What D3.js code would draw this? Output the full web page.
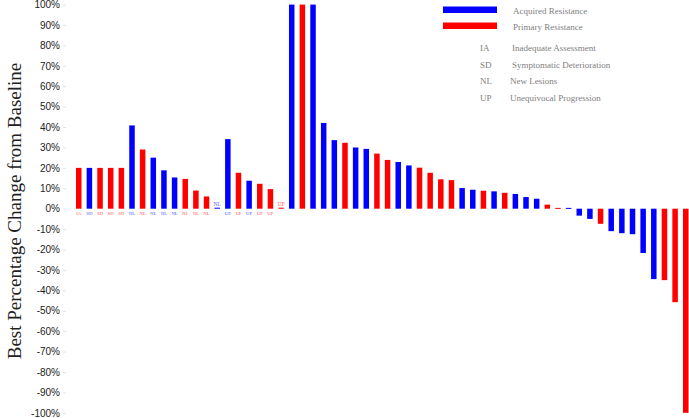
<!DOCTYPE html>
<html>
<head>
<meta charset="utf-8">
<script src="https://cdn.jsdelivr.net/npm/d3@7"></script>
<style>
  body { margin: 0; background: #fff; }
  svg { display: block; }
</style>
</head>
<body>
<div id="chartContainer"></div>
<script>
// one bar per patient, sorted as in the figure
var patients = d3.range(1, 59);
var bestChange = [
    20, 20, 20, 20, 20, 40.8, 29, 25, 18.8, 15.3, 14.6, 8.9, 6, 0.5,
    34.1, 17.6, 13.7, 12.2, 9.6, 0.5,
    100, 100, 100, 42, 33.6, 32.3, 30, 29.3, 27, 23.9, 22.9, 21.2, 20.1, 17.6,
    14.4, 14, 10.1, 9.3, 8.8, 8.5, 7.8, 7.2, 5.7, 4.9, 2, 0.4, 0.4,
    -3.4, -5, -7.4, -11, -12, -12.5, -21.7, -34.5, -35, -45.8, -100
];
// A = acquired resistance, P = primary resistance
var resistance = [
    'P', 'A', 'P', 'P', 'P', 'A', 'P', 'A', 'A', 'A', 'P', 'P', 'P', 'A',
    'A', 'P', 'A', 'P', 'P', 'P',
    'A', 'P', 'A', 'A', 'A', 'P', 'A', 'A', 'P', 'P', 'A', 'A', 'P', 'P',
    'P', 'P', 'A', 'A', 'P', 'A', 'P', 'A', 'A', 'A', 'P', 'P', 'A',
    'A', 'A', 'P', 'A', 'A', 'A', 'A', 'A', 'P', 'P', 'P'
];
// reason for progression, only for the first patients
var reasonCodes = [
    'IA', 'SD', 'SD', 'SD', 'SD', 'NL', 'NL', 'NL', 'NL', 'NL', 'NL', 'NL', 'NL', 'NL',
    'UP', 'UP', 'UP', 'UP', 'UP', 'UP'
];
var yTicks = d3.range(-100, 101, 10);
var legendSeries = ['Acquired Resistance', 'Primary Resistance'];
var legendCodes = ['IA', 'SD', 'NL', 'UP'];
var legendMeanings = ['Inadequate Assessment', 'Symptomatic Deterioration', 'New Lesions', 'Unequivocal Progression'];

var width = 689, height = 418;
var colors = { A: '#0000ff', P: '#ff0000' };
var labelColors = { A: '#5a5aff', P: '#ff5a5a' };

var data = patients.map(function (p, i) {
    return { id: p, value: bestChange[i], type: resistance[i], code: reasonCodes[i] };
});

var svg = d3.select('#chartContainer')
    .append('svg')
    .attr('width', width)
    .attr('height', height);

var x = d3.scaleBand()
    .domain(patients)
    .range([76, 688.5])
    .paddingInner(0.484)
    .paddingOuter(0);

var y = d3.scaleLinear()
    .domain([-100, 100])
    .range([412.8, 4.6]);

// y axis: labels and faint ticks, no domain line
var yAxis = svg.append('g')
    .attr('transform', 'translate(66,0)')
    .call(d3.axisLeft(y)
        .tickValues(yTicks)
        .tickSize(3)
        .tickPadding(3)
        .tickFormat(function (d) { return d + '%'; }));
yAxis.select('.domain').remove();
yAxis.selectAll('line').attr('stroke', '#e2e2e2');
yAxis.selectAll('text')
    .attr('font-family', 'Liberation Sans, Arial, sans-serif')
    .attr('font-size', 10)
    .attr('fill', '#222');

svg.append('text')
    .attr('transform', 'translate(21,211) rotate(-90)')
    .attr('text-anchor', 'middle')
    .attr('font-family', 'Liberation Serif, Times New Roman, serif')
    .attr('font-size', 19)
    .attr('fill', '#222')
    .text('Best Percentage Change from Baseline');

// bars
svg.append('g')
    .selectAll('rect')
    .data(data)
    .join('rect')
    .attr('x', function (d) { return x(d.id); })
    .attr('width', x.bandwidth())
    .attr('y', function (d) { return y(Math.max(0, d.value)); })
    .attr('height', function (d) { return Math.max(1, Math.abs(y(d.value) - y(0))); })
    .attr('fill', function (d) { return colors[d.type]; });

// reason codes under (or above, for the tiny bars) the bars
svg.append('g')
    .selectAll('text')
    .data(data.filter(function (d) { return d.code; }))
    .join('text')
    .attr('x', function (d) { return x(d.id) + x.bandwidth() / 2; })
    .attr('y', function (d) { return d.value < 1 ? y(0) - 3 : y(0) + 6; })
    .attr('text-anchor', 'middle')
    .attr('font-family', 'Liberation Serif, Times New Roman, serif')
    .attr('font-size', function (d) { return d.value < 1 ? 5.5 : 4.8; })
    .attr('fill', function (d) { return labelColors[d.type]; })
    .text(function (d) { return d.code; });

// legend
var legend = svg.append('g');
legend.selectAll('rect')
    .data(legendSeries)
    .join('rect')
    .attr('x', 443)
    .attr('y', function (d, i) { return 6.5 + i * 16; })
    .attr('width', 54)
    .attr('height', 6.5)
    .attr('fill', function (d, i) { return i == 0 ? colors.A : colors.P; });

legend.selectAll('text.series')
    .data(legendSeries)
    .join('text')
    .attr('class', 'series')
    .attr('x', 513)
    .attr('y', function (d, i) { return 14 + i * 16; })
    .attr('font-family', 'Liberation Serif, Times New Roman, serif')
    .attr('font-size', 9)
    .attr('fill', '#808080')
    .text(function (d) { return d; });

legend.selectAll('text.code')
    .data(legendCodes)
    .join('text')
    .attr('class', 'code')
    .attr('x', 480)
    .attr('y', function (d, i) { return 51 + i * 16.5; })
    .attr('font-family', 'Liberation Serif, Times New Roman, serif')
    .attr('font-size', 9)
    .attr('fill', '#808080')
    .text(function (d) { return d; });

legend.selectAll('text.meaning')
    .data(legendMeanings)
    .join('text')
    .attr('class', 'meaning')
    .attr('x', function (d, i) { return i < 2 ? 512 : 510; })
    .attr('y', function (d, i) { return 51 + i * 16.5; })
    .attr('font-family', 'Liberation Serif, Times New Roman, serif')
    .attr('font-size', 9)
    .attr('fill', '#808080')
    .text(function (d) { return d; });
</script>
</body>
</html>
